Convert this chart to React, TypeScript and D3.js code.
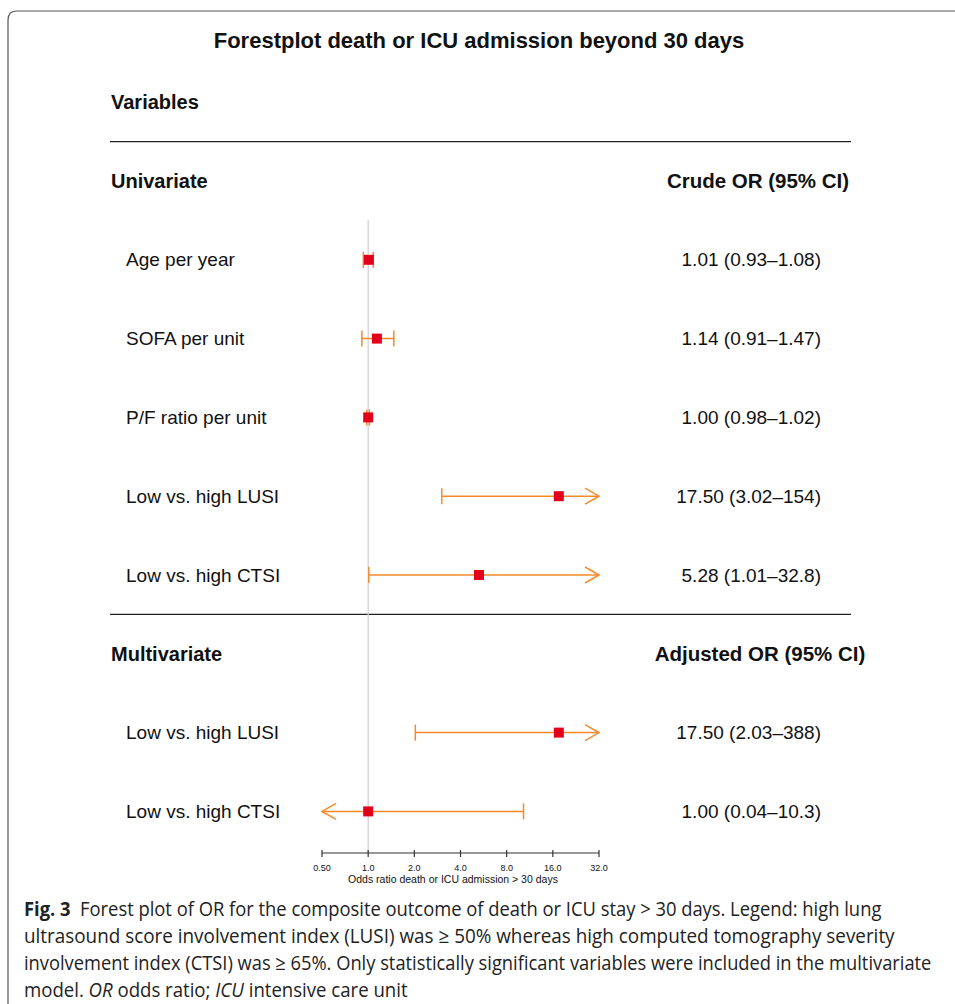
import React, { useLayoutEffect, useRef, useState } from "react";
import * as d3 from "d3";

const title = "Forestplot death or ICU admission beyond 30 days";
const univariateLabels = ["Age per year", "SOFA per unit", "P/F ratio per unit", "Low vs. high LUSI", "Low vs. high CTSI"];
const univariateOR = [1.01, 1.14, 1.0, 17.5, 5.28];
const univariateLow = [0.93, 0.91, 0.98, 3.02, 1.01];
const univariateHigh = [1.08, 1.47, 1.02, 154, 32.8];
const univariateText = ["1.01 (0.93–1.08)", "1.14 (0.91–1.47)", "1.00 (0.98–1.02)", "17.50 (3.02–154)", "5.28 (1.01–32.8)"];
const multivariateLabels = ["Low vs. high LUSI", "Low vs. high CTSI"];
const multivariateOR = [17.5, 1.0];
const multivariateLow = [2.03, 0.04];
const multivariateHigh = [388, 10.3];
const multivariateText = ["17.50 (2.03–388)", "1.00 (0.04–10.3)"];
const tickValues = [0.5, 1, 2, 4, 8, 16, 32];
const tickLabels = ["0.50", "1.0", "2.0", "4.0", "8.0", "16.0", "32.0"];
const axisTitle = "Odds ratio death or ICU admission > 30 days";

const FONT = "'Liberation Sans', Arial, Helvetica, sans-serif";
const CAPFONT = "'Open Sans', 'Noto Sans', sans-serif";
const LINE = "#F7892B";
const MARK = "#E3001B";

type Row = { label: string; or: number; lo: number; hi: number; text: string; idx: number };
type Part = { t: string; w?: string; s?: string };

const captionLines: Part[][] = [
  [{ t: "Fig. 3", w: "bold" }, { t: "  Forest plot of OR for the composite outcome of death or ICU stay > 30 days. Legend: high lung" }],
  [{ t: "ultrasound score involvement index (LUSI) was ≥ 50% whereas high computed tomography severity" }],
  [{ t: "involvement index (CTSI) was ≥ 65%. Only statistically significant variables were included in the multivariate" }],
  [{ t: "model. " }, { t: "OR", s: "italic" }, { t: " odds ratio; " }, { t: "ICU", s: "italic" }, { t: " intensive care unit" }],
];
const captionWidths = [858, 871, 908, 384];

export default function App() {
  const x = d3.scaleLog().domain([0.5, 32]).range([322, 599]);
  const y = d3.scaleLinear().domain([0, 1]).range([181, 259.8]);
  const [xmin, xmax] = x.domain();

  const capRefs = useRef<(SVGTextElement | null)[]>([]);
  const [scales, setScales] = useState<number[]>(captionLines.map(() => 1));
  useLayoutEffect(() => {
    const s = capRefs.current.map((el, i) => {
      if (!el) return 1;
      const w = el.getComputedTextLength();
      return w > 0 ? captionWidths[i] / w : 1;
    });
    setScales(s);
  }, []);

  const rows: Row[] = [
    ...univariateLabels.map((l, i) => ({ label: l, or: univariateOR[i], lo: univariateLow[i], hi: univariateHigh[i], text: univariateText[i], idx: i + 1 })),
    ...multivariateLabels.map((l, i) => ({ label: l, or: multivariateOR[i], lo: multivariateLow[i], hi: multivariateHigh[i], text: multivariateText[i], idx: i + 7 })),
  ];

  const axisY = 853;
  const ms = 10;

  return (
    <svg width={955} height={1004} style={{ position: "absolute", left: 0, top: 0, background: "#fff" }} fontFamily={FONT}>
      <rect x={0} y={0} width={955} height={1004} fill="#fff" />
      <path d="M955,11 L17,11 Q8,11 8,20 L8,1004" fill="none" stroke="#555" strokeWidth={1.2} />
      <text x={479} y={48} textAnchor="middle" fontSize={22} fontWeight="bold" fill="#111">{title}</text>
      <text x={111} y={y(-1)} dy="0.35em" fontSize={20} fontWeight="bold" fill="#111">Variables</text>
      <line x1={110} x2={851} y1={y(-0.5)} y2={y(-0.5)} stroke="#222" strokeWidth={1.2} />
      <text x={111} y={y(0)} dy="0.35em" fontSize={20} fontWeight="bold" fill="#111">Univariate</text>
      <text x={758} y={y(0)} dy="0.35em" textAnchor="middle" fontSize={20.5} fontWeight="bold" fill="#111">Crude OR (95% CI)</text>
      <line x1={110} x2={851} y1={y(5.5)} y2={y(5.5)} stroke="#222" strokeWidth={1.2} />
      <text x={111} y={y(6)} dy="0.35em" fontSize={20} fontWeight="bold" fill="#111">Multivariate</text>
      <text x={760} y={y(6)} dy="0.35em" textAnchor="middle" fontSize={20.5} fontWeight="bold" fill="#111">Adjusted OR (95% CI)</text>

      <line x1={x(1)} x2={x(1)} y1={220} y2={axisY} stroke="#ccc" strokeWidth={1.2} />

      {rows.map((r, i) => {
        const cy = y(r.idx);
        const lo = Math.max(r.lo, xmin);
        const hi = Math.min(r.hi, xmax);
        const x1 = x(lo);
        const x2 = x(hi);
        return (
          <g key={i}>
            <text x={126} y={cy} dy="0.35em" fontSize={19} fill="#111">{r.label}</text>
            <text x={821} y={cy} dy="0.35em" textAnchor="end" fontSize={19} fill="#111">{r.text}</text>
            <line x1={x1} x2={x2} y1={cy} y2={cy} stroke={LINE} strokeWidth={1.5} />
            {r.lo >= xmin ? (
              <line x1={x1} x2={x1} y1={cy - 8} y2={cy + 8} stroke={LINE} strokeWidth={1.5} />
            ) : (
              <path d={`M${x1 + 14},${cy - 8} L${x1},${cy} L${x1 + 14},${cy + 8}`} fill="none" stroke={LINE} strokeWidth={1.5} />
            )}
            {r.hi <= xmax ? (
              <line x1={x2} x2={x2} y1={cy - 8} y2={cy + 8} stroke={LINE} strokeWidth={1.5} />
            ) : (
              <path d={`M${x2 - 14},${cy - 8} L${x2},${cy} L${x2 - 14},${cy + 8}`} fill="none" stroke={LINE} strokeWidth={1.5} />
            )}
            <rect x={x(r.or) - ms / 2} y={cy - ms / 2} width={ms} height={ms} fill={MARK} />
          </g>
        );
      })}

      <line x1={x(xmin)} x2={x(xmax)} y1={axisY} y2={axisY} stroke="#333" strokeWidth={1.2} />
      {tickValues.map((t, i) => (
        <g key={t}>
          <line x1={x(t)} x2={x(t)} y1={axisY - 3} y2={axisY + 4} stroke="#333" strokeWidth={1.2} />
          <text x={x(t)} y={871} textAnchor="middle" fontSize={9} fill="#111">{tickLabels[i]}</text>
        </g>
      ))}
      <text x={453} y={883} textAnchor="middle" fontSize={10.5} fill="#111">{axisTitle}</text>

      {captionLines.map((ln, i) => (
        <g key={i} transform={`translate(24,${916 + i * 27}) scale(${scales[i]},1)`}>
          <text ref={(el) => { capRefs.current[i] = el; }} x={0} y={0} fontSize={20} fill="#222" fontFamily={CAPFONT} style={{ whiteSpace: "pre" }}>
            {ln.map((p, j) => (
              <tspan key={j} fontWeight={p.w || "normal"} fontStyle={p.s || "normal"}>{p.t}</tspan>
            ))}
          </text>
        </g>
      ))}
    </svg>
  );
}
